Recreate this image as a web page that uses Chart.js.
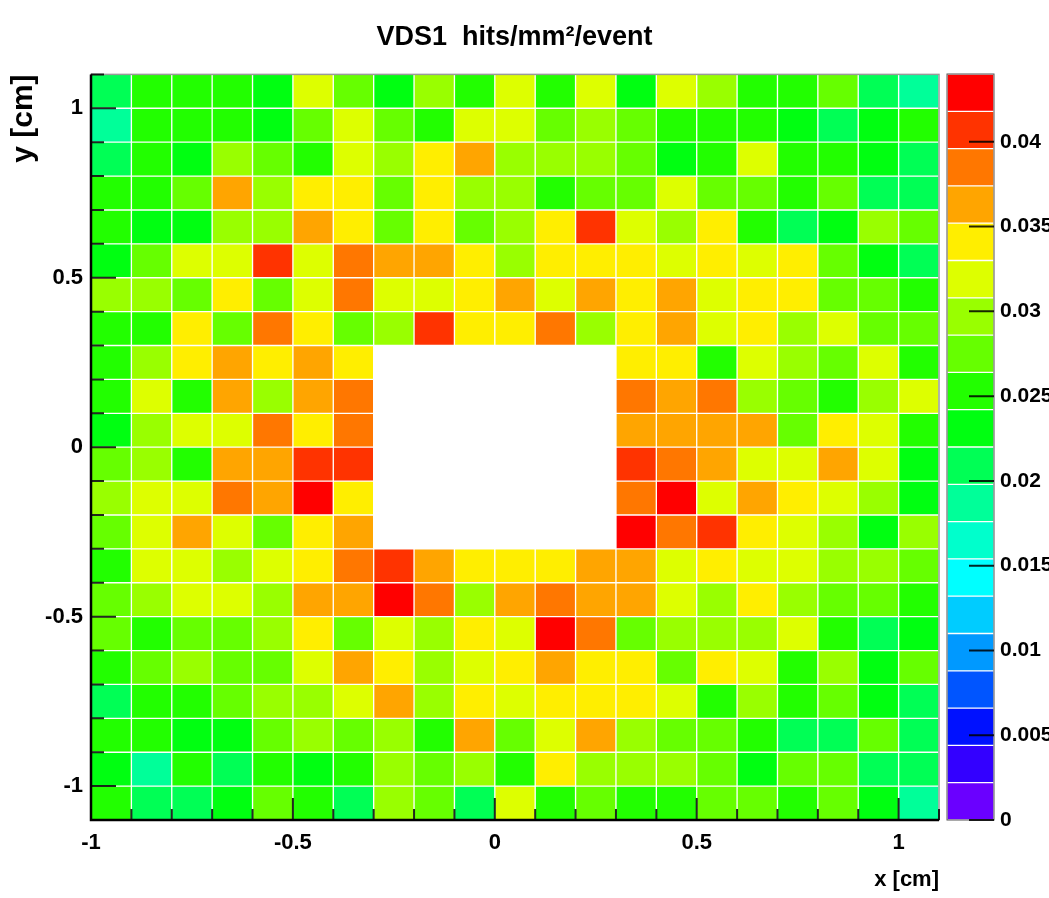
<!DOCTYPE html>
<html lang="en">
<head>
<meta charset="UTF-8">
<title>VDS1 hits/mm2/event</title>
<script src="https://cdn.jsdelivr.net/npm/chart.js"></script>
<style>
  body { margin: 0; background: #fff; }
  #wrap { position: relative; width: 1049px; height: 898px; overflow: hidden; }
  #main { position: absolute; left: 0; top: 0; }
  #zbar { position: absolute; left: 940px; top: 0; }
</style>
</head>
<body>
<div id="wrap">
  <canvas id="main" width="1049" height="898"></canvas>
  <canvas id="zbar" width="109" height="898"></canvas>
</div>
<script>
// --- histogram binning (cm) ---
const xCenters = [-0.95, -0.85, -0.75, -0.65, -0.55, -0.45, -0.35, -0.25, -0.15, -0.05,
                   0.05, 0.15, 0.25, 0.35, 0.45, 0.55, 0.65, 0.75, 0.85, 0.95, 1.05];
const yCenters = [1.05, 0.95, 0.85, 0.75, 0.65, 0.55, 0.45, 0.35, 0.25, 0.15, 0.05,
                  -0.05, -0.15, -0.25, -0.35, -0.45, -0.55, -0.65, -0.75, -0.85, -0.95, -1.05];
const binHalf = 0.05;

// axis ticks
const xTickValues = [-1, -0.5, 0, 0.5, 1];
const xTickLabels = ['-1', '-0.5', '0', '0.5', '1'];
const yTickValues = [-1, -0.5, 0, 0.5, 1];
const yTickLabels = ['-1', '-0.5', '0', '0.5', '1'];
const zTickValues = [0, 0.005, 0.01, 0.015, 0.02, 0.025, 0.03, 0.035, 0.04];
const zTickLabels = ['0', '0.005', '0.01', '0.015', '0.02', '0.025', '0.03', '0.035', '0.04'];
const zMax = 0.044;

// ROOT colour palette, 20 contour levels (bottom -> top)
const palette = ['#6a00ff', '#3300ff', '#0011ff', '#0055ff', '#0099ff', '#00ccff', '#00ffff',
                 '#00ffcc', '#00ff99', '#00ff55', '#00ff11', '#22ff00', '#66ff00', '#99ff00',
                 '#ddff00', '#ffee00', '#ffa500', '#ff7700', '#ff3300', '#ff0000'];

// hits/mm^2/event, one row per y bin (top row first), null = empty bin (beam hole)
const hits = [
  [.021,.025,.025,.025,.023,.032,.027,.023,.030,.025,.032,.025,.032,.023,.032,.030,.025,.025,.027,.021,.019],
  [.019,.025,.025,.025,.023,.027,.032,.027,.025,.032,.032,.027,.030,.027,.025,.025,.025,.023,.021,.023,.025],
  [.021,.025,.023,.030,.027,.025,.032,.030,.034,.036,.030,.030,.030,.027,.023,.025,.032,.025,.025,.023,.021],
  [.025,.025,.027,.036,.030,.034,.034,.027,.034,.030,.030,.025,.027,.027,.032,.027,.027,.025,.027,.021,.021],
  [.025,.023,.023,.030,.030,.036,.034,.027,.034,.027,.030,.034,.041,.032,.030,.034,.025,.021,.023,.030,.027],
  [.023,.027,.032,.032,.041,.032,.039,.036,.036,.034,.030,.034,.034,.034,.032,.034,.032,.034,.027,.023,.021],
  [.030,.030,.027,.034,.027,.032,.039,.032,.032,.034,.036,.032,.036,.034,.036,.032,.034,.034,.027,.027,.025],
  [.025,.025,.034,.027,.039,.034,.027,.030,.041,.034,.034,.039,.030,.034,.036,.032,.034,.030,.032,.027,.027],
  [.025,.030,.034,.036,.034,.036,.034,null,null,null,null,null,null,.034,.034,.025,.032,.030,.027,.032,.025],
  [.025,.032,.025,.036,.030,.036,.039,null,null,null,null,null,null,.039,.036,.039,.030,.027,.025,.030,.032],
  [.023,.030,.032,.032,.039,.034,.039,null,null,null,null,null,null,.036,.036,.036,.036,.027,.034,.032,.025],
  [.027,.030,.025,.036,.036,.041,.041,null,null,null,null,null,null,.041,.039,.036,.032,.032,.036,.032,.023],
  [.030,.032,.032,.039,.036,.043,.034,null,null,null,null,null,null,.039,.043,.032,.036,.034,.032,.030,.023],
  [.027,.032,.036,.032,.027,.034,.036,null,null,null,null,null,null,.043,.039,.041,.034,.032,.030,.023,.030],
  [.025,.032,.032,.030,.032,.034,.039,.041,.036,.034,.034,.034,.036,.036,.032,.034,.032,.032,.030,.030,.027],
  [.027,.030,.032,.032,.030,.036,.036,.043,.039,.030,.036,.039,.036,.036,.032,.030,.034,.030,.027,.027,.025],
  [.027,.025,.027,.027,.030,.034,.027,.032,.030,.034,.032,.043,.039,.027,.030,.030,.030,.032,.025,.021,.023],
  [.025,.027,.030,.027,.027,.032,.036,.034,.030,.032,.034,.036,.034,.034,.027,.034,.032,.025,.030,.023,.027],
  [.021,.025,.025,.027,.030,.030,.032,.036,.030,.034,.032,.034,.034,.034,.032,.025,.030,.025,.027,.023,.021],
  [.025,.025,.023,.023,.027,.030,.027,.030,.025,.036,.027,.032,.036,.030,.027,.027,.025,.021,.021,.027,.021],
  [.023,.019,.025,.021,.025,.023,.025,.030,.027,.030,.025,.034,.030,.030,.030,.027,.023,.027,.027,.021,.021],
  [.025,.021,.021,.023,.027,.025,.021,.030,.027,.021,.032,.025,.027,.025,.025,.027,.027,.025,.027,.023,.019]
];

const FONT = "'Liberation Sans', Arial, Helvetica, sans-serif";
const zStep = zMax / palette.length;

function colourFor(v) {
  if (v == null) return 'rgba(0,0,0,0)';
  const lvl = Math.min(palette.length - 1, Math.max(0, Math.floor(v / zStep)));
  return palette[lvl];
}

// one floating bar per filled bin
const cells = [];
hits.forEach((row, r) => {
  row.forEach((v, c) => {
    if (v == null) return;
    cells.push({ x: xCenters[c], y: [yCenters[r] - binHalf, yCenters[r] + binHalf], v: v });
  });
});

const xEdges = xCenters.map(c => c - binHalf).concat([xCenters[xCenters.length - 1] + binHalf]);
const yEdges = yCenters.map(c => c + binHalf).concat([yCenters[yCenters.length - 1] - binHalf]);
const isMajor = (v, list) => list.some(t => Math.abs(t - v) < 1e-6);

// ROOT style frame + ticks drawn inside the pad
const rootAxes = {
  id: 'rootAxes',
  afterDatasetsDraw(chart) {
    const { ctx, chartArea: a, scales } = chart;
    ctx.save();
    ctx.strokeStyle = '#9a9a9a';
    ctx.lineWidth = 1.5;
    ctx.strokeRect(a.left, a.top, a.right - a.left, a.bottom - a.top);
    ctx.strokeStyle = 'rgba(0,0,0,0.85)';
    ctx.lineWidth = 2;
    ctx.beginPath();
    xEdges.forEach(v => {
      const px = scales.x.getPixelForValue(v);
      const len = isMajor(v, xTickValues) ? 22 : 11;
      ctx.moveTo(px, a.bottom);
      ctx.lineTo(px, a.bottom - len);
    });
    yEdges.forEach(v => {
      const py = scales.y.getPixelForValue(v);
      const len = isMajor(v, yTickValues) ? 25 : 13;
      ctx.moveTo(a.left, py);
      ctx.lineTo(a.left + len, py);
    });
    ctx.stroke();
    ctx.strokeStyle = '#000';
    ctx.lineWidth = 2.5;
    ctx.beginPath();
    ctx.moveTo(a.left, a.top);
    ctx.lineTo(a.left, a.bottom);
    ctx.lineTo(a.right, a.bottom);
    ctx.stroke();
    ctx.restore();
  }
};

new Chart(document.getElementById('main'), {
  type: 'bar',
  data: {
    datasets: [{
      data: cells,
      backgroundColor: c => colourFor(c.raw && c.raw.v),
      borderColor: 'rgba(255,255,255,0.18)',
      borderWidth: 1,
      borderSkipped: false,
      barPercentage: 1,
      categoryPercentage: 1
    }]
  },
  options: {
    responsive: false,
    animation: false,
    events: [],
    layout: { padding: { right: 20 } },
    plugins: {
      legend: { display: false },
      tooltip: { enabled: false },
      title: {
        display: true,
        text: 'VDS1  hits/mm\u00B2/event',
        color: '#000',
        font: { family: FONT, size: 27, weight: 'bold' },
        padding: { top: 21, bottom: 21 }
      }
    },
    scales: {
      x: {
        type: 'linear',
        min: -1,
        max: 1.1,
        offset: false,
        grid: { display: false, drawTicks: false, offset: false },
        border: { display: false },
        afterBuildTicks: s => { s.ticks = xTickValues.map(v => ({ value: v })); },
        afterFit: s => { s.height = 78; },
        ticks: {
          autoSkip: false,
          maxRotation: 0,
          padding: 10,
          color: '#000',
          font: { family: FONT, size: 22, weight: 'bold' },
          callback: (v, i) => xTickLabels[i]
        },
        title: {
          display: true,
          text: 'x [cm]',
          align: 'end',
          color: '#000',
          font: { family: FONT, size: 22, weight: 'bold' },
          padding: { top: 0, bottom: 5 }
        }
      },
      y: {
        type: 'linear',
        min: -1.1,
        max: 1.1,
        grid: { display: false, drawTicks: false },
        border: { display: false },
        afterBuildTicks: s => { s.ticks = yTickValues.map(v => ({ value: v })); },
        afterFit: s => { s.width = 91; },
        ticks: {
          autoSkip: false,
          padding: 8,
          color: '#000',
          font: { family: FONT, size: 22, weight: 'bold' },
          callback: (v, i) => yTickLabels[i]
        },
        title: {
          display: true,
          text: 'y [cm]',
          align: 'end',
          color: '#000',
          font: { family: FONT, size: 30, weight: 'bold' },
          padding: { top: 6, bottom: 0 }
        }
      },
      zspace: {
        type: 'linear',
        position: 'right',
        grid: { display: false, drawTicks: false },
        border: { display: false },
        ticks: { display: false },
        afterFit: s => { s.width = 90; }
      }
    }
  },
  plugins: [rootAxes]
});

// palette axis
const zFrame = {
  id: 'zFrame',
  afterDatasetsDraw(chart) {
    const { ctx, chartArea: a, scales } = chart;
    ctx.save();
    ctx.strokeStyle = '#555';
    ctx.lineWidth = 1;
    ctx.strokeRect(a.left, a.top, a.right - a.left, a.bottom - a.top);
    ctx.strokeStyle = 'rgba(0,0,0,0.85)';
    ctx.lineWidth = 2;
    ctx.beginPath();
    zTickValues.forEach(v => {
      const py = scales.y.getPixelForValue(v);
      ctx.moveTo(a.right, py);
      ctx.lineTo(a.right - 25, py);
    });
    ctx.stroke();
    ctx.restore();
  }
};

new Chart(document.getElementById('zbar'), {
  type: 'bar',
  data: {
    labels: [''],
    datasets: palette.map((col, i) => ({
      data: [[i * zStep, (i + 1) * zStep]],
      backgroundColor: col,
      borderColor: 'rgba(255,255,255,0.2)',
      borderWidth: 1,
      borderSkipped: false,
      grouped: false,
      barPercentage: 1,
      categoryPercentage: 1
    }))
  },
  options: {
    responsive: false,
    animation: false,
    events: [],
    layout: { padding: { left: 7, top: 74, bottom: 78, right: 0 } },
    plugins: { legend: { display: false }, tooltip: { enabled: false } },
    scales: {
      x: { display: false },
      y: {
        position: 'right',
        min: 0,
        max: zMax,
        grid: { display: false, drawTicks: false },
        border: { display: false },
        afterBuildTicks: s => { s.ticks = zTickValues.map(v => ({ value: v })); },
        afterFit: s => { s.width = 55; },
        ticks: {
          autoSkip: false,
          padding: 6,
          color: '#000',
          font: { family: FONT, size: 21, weight: 'bold' },
          callback: (v, i) => zTickLabels[i]
        }
      }
    }
  },
  plugins: [zFrame]
});
</script>
</body>
</html>
